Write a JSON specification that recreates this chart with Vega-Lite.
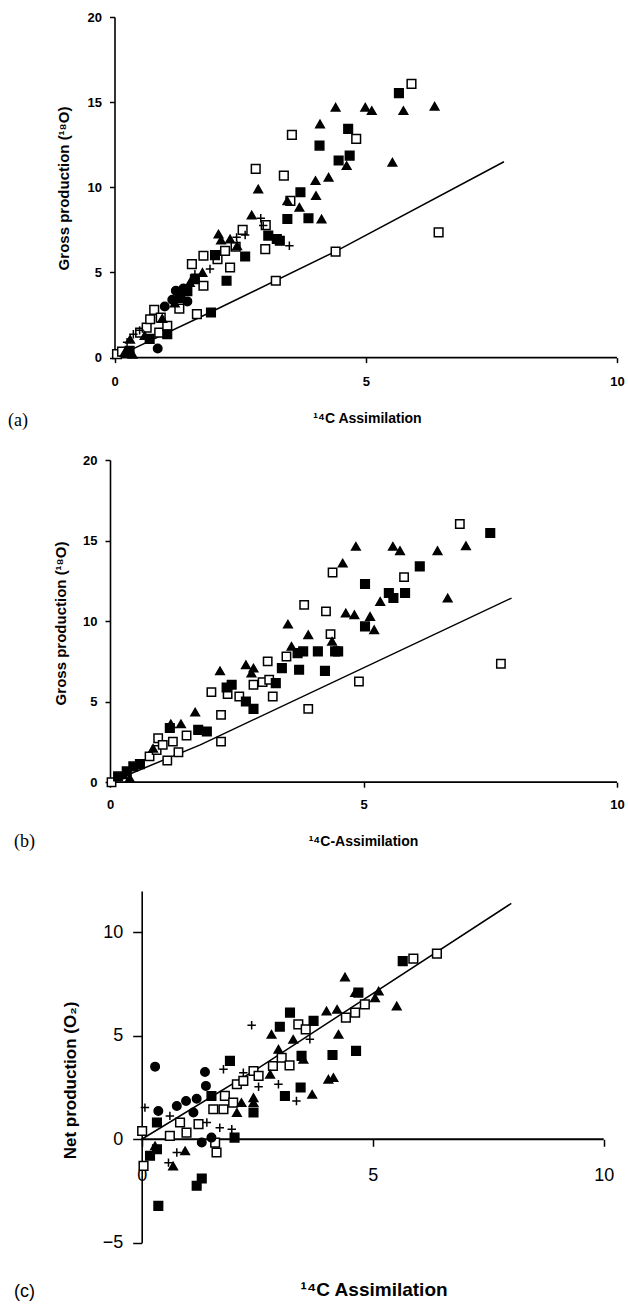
{
  "$schema": "https://vega.github.io/schema/vega-lite/v6.json",
  "padding": {"left": 8, "top": 11, "right": 0, "bottom": 0},
  "background": "white",
  "config": {
    "view": {"stroke": null},
    "axis": {"grid": false, "domainColor": "black", "tickColor": "black", "labelColor": "black", "titleColor": "black", "labelFont": "Liberation Sans", "titleFont": "Liberation Sans", "labelFlush": false, "labelOverlap": false}
  },
  "datasets": {
    "a": [
      {"x":0.05,"y":0.2,"s":"osq"},{"x":0.15,"y":0.35,"s":"osq"},{"x":0.51,"y":1.47,"s":"osq"},{"x":0.64,"y":1.76,"s":"osq"},{"x":0.71,"y":2.25,"s":"osq"},{"x":0.79,"y":2.8,"s":"osq"},{"x":0.89,"y":1.47,"s":"osq"},{"x":0.92,"y":2.35,"s":"osq"},{"x":1.05,"y":1.86,"s":"osq"},{"x":1.29,"y":2.88,"s":"osq"},{"x":1.64,"y":2.55,"s":"osq"},{"x":1.54,"y":5.49,"s":"osq"},{"x":1.77,"y":5.98,"s":"osq"},{"x":1.77,"y":4.22,"s":"osq"},{"x":2.05,"y":5.78,"s":"osq"},{"x":2.2,"y":6.27,"s":"osq"},{"x":2.3,"y":5.29,"s":"osq"},{"x":2.41,"y":6.51,"s":"osq"},{"x":2.55,"y":7.5,"s":"osq"},{"x":2.81,"y":11.08,"s":"osq"},{"x":3.0,"y":6.37,"s":"osq"},{"x":3.01,"y":7.78,"s":"osq"},{"x":3.21,"y":4.51,"s":"osq"},{"x":3.37,"y":10.69,"s":"osq"},{"x":3.5,"y":9.2,"s":"osq"},{"x":3.53,"y":13.08,"s":"osq"},{"x":4.4,"y":6.22,"s":"osq"},{"x":4.81,"y":12.84,"s":"osq"},{"x":5.91,"y":16.07,"s":"osq"},{"x":6.45,"y":7.35,"s":"osq"},
      {"x":0.3,"y":0.4,"s":"fsq"},{"x":0.7,"y":1.1,"s":"fsq"},{"x":1.05,"y":1.37,"s":"fsq"},{"x":1.3,"y":3.5,"s":"fsq"},{"x":1.45,"y":3.9,"s":"fsq"},{"x":1.6,"y":4.6,"s":"fsq"},{"x":1.92,"y":2.65,"s":"fsq"},{"x":2.0,"y":6.02,"s":"fsq"},{"x":2.23,"y":4.51,"s":"fsq"},{"x":2.6,"y":5.94,"s":"fsq"},{"x":3.06,"y":7.16,"s":"fsq"},{"x":3.23,"y":6.96,"s":"fsq"},{"x":3.29,"y":6.86,"s":"fsq"},{"x":3.44,"y":8.14,"s":"fsq"},{"x":3.7,"y":9.71,"s":"fsq"},{"x":3.86,"y":8.18,"s":"fsq"},{"x":4.08,"y":12.45,"s":"fsq"},{"x":4.46,"y":11.57,"s":"fsq"},{"x":4.68,"y":11.86,"s":"fsq"},{"x":4.65,"y":13.43,"s":"fsq"},{"x":5.66,"y":15.53,"s":"fsq"},
      {"x":0.2,"y":0.3,"s":"tri"},{"x":0.36,"y":0.2,"s":"tri"},{"x":0.31,"y":1.08,"s":"tri"},{"x":0.6,"y":1.3,"s":"tri"},{"x":0.95,"y":2.3,"s":"tri"},{"x":1.2,"y":3.2,"s":"tri"},{"x":1.35,"y":3.6,"s":"tri"},{"x":1.5,"y":4.4,"s":"tri"},{"x":1.75,"y":5.0,"s":"tri"},{"x":2.07,"y":7.25,"s":"tri"},{"x":2.12,"y":6.9,"s":"tri"},{"x":2.3,"y":6.96,"s":"tri"},{"x":2.44,"y":6.57,"s":"tri"},{"x":2.73,"y":8.37,"s":"tri"},{"x":2.86,"y":9.9,"s":"tri"},{"x":3.44,"y":9.2,"s":"tri"},{"x":3.68,"y":8.82,"s":"tri"},{"x":4.0,"y":10.39,"s":"tri"},{"x":4.01,"y":9.51,"s":"tri"},{"x":4.09,"y":13.72,"s":"tri"},{"x":4.12,"y":8.14,"s":"tri"},{"x":4.26,"y":10.59,"s":"tri"},{"x":4.4,"y":14.7,"s":"tri"},{"x":4.62,"y":11.27,"s":"tri"},{"x":4.99,"y":14.7,"s":"tri"},{"x":5.12,"y":14.5,"s":"tri"},{"x":5.53,"y":11.47,"s":"tri"},{"x":5.75,"y":14.5,"s":"tri"},{"x":6.37,"y":14.76,"s":"tri"},
      {"x":0.86,"y":0.53,"s":"circ"},{"x":1.0,"y":3.0,"s":"circ"},{"x":1.15,"y":3.4,"s":"circ"},{"x":1.22,"y":3.92,"s":"circ"},{"x":1.3,"y":3.6,"s":"circ"},{"x":1.37,"y":4.06,"s":"circ"},{"x":1.45,"y":3.3,"s":"circ"},
      {"x":0.25,"y":0.9,"s":"cross"},{"x":0.375,"y":1.37,"s":"cross"},{"x":0.5,"y":1.6,"s":"cross"},{"x":1.6,"y":4.9,"s":"cross"},{"x":1.9,"y":5.2,"s":"cross"},{"x":2.43,"y":7.06,"s":"cross"},{"x":2.6,"y":7.2,"s":"cross"},{"x":2.91,"y":8.18,"s":"cross"},{"x":2.96,"y":7.75,"s":"cross"},{"x":3.48,"y":6.57,"s":"cross"}
    ],
    "aline": [{"x":0,"y":0},{"x":1.9,"y":2.65},{"x":4.4,"y":6.24},{"x":7.75,"y":11.5}],
    "b": [
      {"x":0.03,"y":0.0,"s":"dia"},{"x":0.78,"y":1.6,"s":"dia"},{"x":0.92,"y":2.0,"s":"dia"},{"x":0.95,"y":2.73,"s":"dia"},{"x":1.04,"y":2.32,"s":"dia"},{"x":1.13,"y":1.35,"s":"dia"},{"x":1.24,"y":2.52,"s":"dia"},{"x":1.35,"y":1.86,"s":"dia"},{"x":1.51,"y":2.9,"s":"dia"},{"x":2.0,"y":5.59,"s":"dia"},{"x":2.19,"y":4.18,"s":"dia"},{"x":2.19,"y":2.52,"s":"dia"},{"x":2.32,"y":5.47,"s":"dia"},{"x":2.55,"y":5.32,"s":"dia"},{"x":2.83,"y":6.05,"s":"dia"},{"x":3.01,"y":6.21,"s":"dia"},{"x":3.11,"y":7.5,"s":"dia"},{"x":3.14,"y":6.36,"s":"dia"},{"x":3.21,"y":5.32,"s":"dia"},{"x":3.48,"y":7.8,"s":"dia"},{"x":3.83,"y":11.01,"s":"dia"},{"x":3.91,"y":4.55,"s":"dia"},{"x":4.26,"y":10.6,"s":"dia"},{"x":4.35,"y":9.19,"s":"dia"},{"x":4.39,"y":13.02,"s":"dia"},{"x":4.91,"y":6.25,"s":"dia"},{"x":5.8,"y":12.73,"s":"dia"},{"x":6.9,"y":16.03,"s":"dia"},{"x":7.71,"y":7.35,"s":"dia"},
      {"x":0.26,"y":0.46,"s":"tri"},{"x":0.39,"y":0.25,"s":"tri"},{"x":0.85,"y":2.1,"s":"tri"},{"x":1.2,"y":3.62,"s":"tri"},{"x":1.4,"y":3.62,"s":"tri"},{"x":1.68,"y":4.35,"s":"tri"},{"x":2.17,"y":6.91,"s":"tri"},{"x":2.68,"y":7.29,"s":"tri"},{"x":2.79,"y":6.77,"s":"tri"},{"x":2.83,"y":7.08,"s":"tri"},{"x":3.51,"y":9.81,"s":"tri"},{"x":3.58,"y":8.43,"s":"tri"},{"x":3.91,"y":9.15,"s":"tri"},{"x":4.38,"y":8.74,"s":"tri"},{"x":4.59,"y":13.6,"s":"tri"},{"x":4.65,"y":10.5,"s":"tri"},{"x":4.82,"y":10.39,"s":"tri"},{"x":4.85,"y":14.64,"s":"tri"},{"x":5.13,"y":10.29,"s":"tri"},{"x":5.21,"y":9.46,"s":"tri"},{"x":5.33,"y":11.22,"s":"tri"},{"x":5.58,"y":14.64,"s":"tri"},{"x":5.72,"y":14.37,"s":"tri"},{"x":6.46,"y":14.37,"s":"tri"},{"x":6.66,"y":11.43,"s":"tri"},{"x":7.02,"y":14.68,"s":"tri"},
      {"x":0.16,"y":0.36,"s":"fsq"},{"x":0.33,"y":0.67,"s":"fsq"},{"x":0.46,"y":0.98,"s":"fsq"},{"x":0.59,"y":1.12,"s":"fsq"},{"x":1.18,"y":3.36,"s":"fsq"},{"x":1.74,"y":3.25,"s":"fsq"},{"x":1.91,"y":3.15,"s":"fsq"},{"x":2.3,"y":5.88,"s":"fsq"},{"x":2.4,"y":6.05,"s":"fsq"},{"x":2.68,"y":5.01,"s":"fsq"},{"x":2.83,"y":4.55,"s":"fsq"},{"x":3.27,"y":6.15,"s":"fsq"},{"x":3.39,"y":7.08,"s":"fsq"},{"x":3.7,"y":8.01,"s":"fsq"},{"x":3.73,"y":6.98,"s":"fsq"},{"x":3.81,"y":8.12,"s":"fsq"},{"x":4.1,"y":8.12,"s":"fsq"},{"x":4.24,"y":6.91,"s":"fsq"},{"x":4.44,"y":8.12,"s":"fsq"},{"x":4.5,"y":8.12,"s":"fsq"},{"x":5.03,"y":12.3,"s":"fsq"},{"x":5.03,"y":9.67,"s":"fsq"},{"x":5.5,"y":11.74,"s":"fsq"},{"x":5.59,"y":11.43,"s":"fsq"},{"x":5.82,"y":11.74,"s":"fsq"},{"x":6.11,"y":13.4,"s":"fsq"},{"x":7.5,"y":15.47,"s":"fsq"}
    ],
    "bline": [{"x":0,"y":0},{"x":1.78,"y":2.32},{"x":7.92,"y":11.43}],
    "c": [
      {"x":0.01,"y":0.4,"s":"osq"},{"x":0.04,"y":-1.29,"s":"osq"},{"x":0.61,"y":0.16,"s":"osq"},{"x":0.83,"y":0.81,"s":"osq"},{"x":0.97,"y":0.32,"s":"osq"},{"x":1.23,"y":0.73,"s":"osq"},{"x":1.55,"y":1.45,"s":"osq"},{"x":1.59,"y":-0.16,"s":"osq"},{"x":1.62,"y":-0.64,"s":"osq"},{"x":1.77,"y":1.45,"s":"osq"},{"x":1.8,"y":2.1,"s":"osq"},{"x":1.98,"y":1.77,"s":"osq"},{"x":2.06,"y":2.66,"s":"osq"},{"x":2.2,"y":2.82,"s":"osq"},{"x":2.42,"y":3.3,"s":"osq"},{"x":2.53,"y":3.06,"s":"osq"},{"x":2.84,"y":3.54,"s":"osq"},{"x":3.03,"y":3.94,"s":"osq"},{"x":3.2,"y":3.57,"s":"osq"},{"x":3.39,"y":5.55,"s":"osq"},{"x":3.55,"y":5.31,"s":"osq"},{"x":4.42,"y":5.88,"s":"osq"},{"x":4.62,"y":6.12,"s":"osq"},{"x":4.83,"y":6.52,"s":"osq"},{"x":5.88,"y":8.73,"s":"osq"},{"x":6.39,"y":8.97,"s":"osq"},
      {"x":0.29,"y":-0.32,"s":"tri"},{"x":0.68,"y":-1.29,"s":"tri"},{"x":0.94,"y":-0.56,"s":"tri"},{"x":2.06,"y":1.29,"s":"tri"},{"x":2.16,"y":1.77,"s":"tri"},{"x":2.42,"y":1.77,"s":"tri"},{"x":2.42,"y":2.01,"s":"tri"},{"x":2.78,"y":3.14,"s":"tri"},{"x":2.81,"y":5.07,"s":"tri"},{"x":2.96,"y":4.35,"s":"tri"},{"x":3.28,"y":4.83,"s":"tri"},{"x":3.5,"y":3.86,"s":"tri"},{"x":3.69,"y":2.17,"s":"tri"},{"x":4.0,"y":6.2,"s":"tri"},{"x":4.04,"y":2.9,"s":"tri"},{"x":4.15,"y":2.98,"s":"tri"},{"x":4.23,"y":6.28,"s":"tri"},{"x":4.26,"y":5.07,"s":"tri"},{"x":4.4,"y":7.84,"s":"tri"},{"x":4.62,"y":7.09,"s":"tri"},{"x":5.05,"y":6.84,"s":"tri"},{"x":5.13,"y":7.16,"s":"tri"},{"x":5.52,"y":6.44,"s":"tri"},
      {"x":0.18,"y":-0.8,"s":"fsq"},{"x":0.33,"y":0.81,"s":"fsq"},{"x":0.33,"y":-0.48,"s":"fsq"},{"x":0.36,"y":-3.22,"s":"fsq"},{"x":1.19,"y":-2.25,"s":"fsq"},{"x":1.3,"y":-1.9,"s":"fsq"},{"x":1.51,"y":2.09,"s":"fsq"},{"x":1.91,"y":3.79,"s":"fsq"},{"x":2.01,"y":0.08,"s":"fsq"},{"x":2.42,"y":1.29,"s":"fsq"},{"x":2.99,"y":5.44,"s":"fsq"},{"x":3.1,"y":2.09,"s":"fsq"},{"x":3.21,"y":6.12,"s":"fsq"},{"x":3.44,"y":2.5,"s":"fsq"},{"x":3.46,"y":4.03,"s":"fsq"},{"x":3.72,"y":5.72,"s":"fsq"},{"x":4.13,"y":4.07,"s":"fsq"},{"x":4.64,"y":4.27,"s":"fsq"},{"x":4.69,"y":7.09,"s":"fsq"},{"x":5.65,"y":8.61,"s":"fsq"},
      {"x":0.29,"y":3.51,"s":"circ"},{"x":0.36,"y":1.37,"s":"circ"},{"x":0.76,"y":1.61,"s":"circ"},{"x":0.96,"y":1.85,"s":"circ"},{"x":1.12,"y":1.29,"s":"circ"},{"x":1.19,"y":1.96,"s":"circ"},{"x":1.3,"y":-0.16,"s":"circ"},{"x":1.37,"y":3.25,"s":"circ"},{"x":1.39,"y":2.58,"s":"circ"},{"x":1.51,"y":0.08,"s":"circ"},
      {"x":0.07,"y":1.53,"s":"cross"},{"x":0.58,"y":-1.13,"s":"cross"},{"x":0.61,"y":1.13,"s":"cross"},{"x":0.76,"y":-0.64,"s":"cross"},{"x":1.41,"y":0.81,"s":"cross"},{"x":1.69,"y":0.56,"s":"cross"},{"x":1.77,"y":3.38,"s":"cross"},{"x":1.95,"y":0.48,"s":"cross"},{"x":2.2,"y":3.22,"s":"cross"},{"x":2.38,"y":5.51,"s":"cross"},{"x":2.53,"y":2.54,"s":"cross"},{"x":2.96,"y":2.66,"s":"cross"},{"x":3.35,"y":1.85,"s":"cross"},{"x":3.64,"y":4.83,"s":"cross"}
    ],
    "cline": [{"x":0,"y":0},{"x":2.5,"y":3.4},{"x":8.0,"y":11.4}],
    "xaxis": [{"x":0,"x2":10,"y":0}]
  },
  "vconcat": [
    {
      "spacing": 24,
      "vconcat": [
        {
          "width": 507, "height": 340.6,
          "title": {"text": "(a)", "orient": "bottom", "anchor": "start", "frame": "group", "font": "Liberation Serif", "fontSize": 18, "fontWeight": "normal", "color": "black", "dx": -102, "dy": -14, "offset": 0},
          "layer": [
            {
              "data": {"name": "xaxis"},
              "mark": {"type": "rule", "color": "black", "strokeWidth": 1.8},
              "encoding": {
                "x": {"field": "x", "type": "quantitative", "scale": {"domain": [-0.0896, 10], "nice": false, "zero": false},
                  "axis": {"values": [0, 5, 10], "domain": false, "title": "¹⁴C Assimilation", "titleFontSize": 14, "titleFontWeight": "bold", "titleX": 257, "titleY": 61, "titleBaseline": "middle", "titleAlign": "center", "labelFontSize": 13, "labelFontWeight": "bold", "tickSize": 5, "tickWidth": 1.5, "labelPadding": 13}},
                "x2": {"field": "x2"},
                "y": {"field": "y", "type": "quantitative", "scale": {"domain": [0, 20], "nice": false},
                  "axis": {"values": [0, 5, 10, 15, 20], "offset": -4.5, "domainWidth": 1.6, "title": "Gross production (¹⁸O)", "titleFontSize": 15, "titleFontWeight": "bold", "titleX": -51.5, "titleY": 171, "titleAngle": 270, "titleBaseline": "middle", "titleAlign": "center", "labelFontSize": 13, "labelFontWeight": "bold", "tickSize": 5, "tickWidth": 1.5, "labelPadding": 8}}
              }
            },
            {
              "data": {"name": "aline"},
              "mark": {"type": "line", "color": "black", "strokeWidth": 1.5},
              "encoding": {"x": {"field": "x", "type": "quantitative"}, "y": {"field": "y", "type": "quantitative"}}
            },
            {
              "data": {"name": "a"},
              "mark": {"type": "point", "filled": true, "stroke": "black", "strokeWidth": 1.5, "opacity": 1},
              "encoding": {
                "x": {"field": "x", "type": "quantitative"},
                "y": {"field": "y", "type": "quantitative"},
                "shape": {"field": "s", "type": "nominal", "scale": {"domain": ["osq", "fsq", "tri", "circ", "cross"], "range": ["square", "square", "triangle-up", "circle", "M-1,0L1,0M0,-1L0,1"]}, "legend": null},
                "fill": {"field": "s", "type": "nominal", "scale": {"domain": ["osq", "fsq", "tri", "circ", "cross"], "range": ["white", "black", "black", "black", "transparent"]}, "legend": null},
                "size": {"field": "s", "type": "ordinal", "scale": {"domain": ["osq", "fsq", "tri", "circ", "cross"], "range": [75, 70, 65, 50, 90]}, "legend": null}
              }
            }
          ]
        },
        {
          "width": 507, "height": 322.2,
          "title": {"text": "(b)", "orient": "bottom", "anchor": "start", "frame": "group", "font": "Liberation Serif", "fontSize": 18, "fontWeight": "normal", "color": "black", "dx": -96, "dy": -15, "offset": 0},
          "layer": [
            {
              "data": {"name": "xaxis"},
              "mark": {"type": "rule", "color": "black", "strokeWidth": 1.8},
              "encoding": {
                "x": {"field": "x", "type": "quantitative", "scale": {"domain": [0, 10], "nice": false, "zero": false},
                  "axis": {"values": [0, 5, 10], "domain": false, "title": "¹⁴C-Assimilation", "titleFontSize": 14, "titleFontWeight": "bold", "titleX": 253, "titleY": 59, "titleBaseline": "middle", "titleAlign": "center", "labelFontSize": 13, "labelFontWeight": "bold", "tickSize": 5, "tickWidth": 1.5, "labelPadding": 11}},
                "x2": {"field": "x2"},
                "y": {"field": "y", "type": "quantitative", "scale": {"domain": [0, 20], "nice": false},
                  "axis": {"values": [0, 5, 10, 15, 20], "domainWidth": 1.6, "title": "Gross production (¹⁸O)", "titleFontSize": 15, "titleFontWeight": "bold", "titleX": -50, "titleY": 163, "titleAngle": 270, "titleBaseline": "middle", "titleAlign": "center", "labelFontSize": 13, "labelFontWeight": "bold", "tickSize": 5, "tickWidth": 1.5, "labelPadding": 8}}
              }
            },
            {
              "data": {"name": "bline"},
              "mark": {"type": "line", "color": "black", "strokeWidth": 1.5},
              "encoding": {"x": {"field": "x", "type": "quantitative"}, "y": {"field": "y", "type": "quantitative"}}
            },
            {
              "data": {"name": "b"},
              "mark": {"type": "point", "filled": true, "stroke": "black", "strokeWidth": 1.5, "opacity": 1},
              "encoding": {
                "x": {"field": "x", "type": "quantitative"},
                "y": {"field": "y", "type": "quantitative"},
                "shape": {"field": "s", "type": "nominal", "scale": {"domain": ["dia", "fsq", "tri"], "range": ["M0,-1.2L0.85,0L0,1.2L-0.85,0Z", "square", "triangle-up"]}, "legend": null},
                "fill": {"field": "s", "type": "nominal", "scale": {"domain": ["dia", "fsq", "tri"], "range": ["white", "black", "black"]}, "legend": null},
                "size": {"field": "s", "type": "ordinal", "scale": {"domain": ["dia", "fsq", "tri"], "range": [45, 70, 65]}, "legend": null}
              }
            }
          ]
        }
      ]
    },
    {
      "width": 493.7, "height": 351.7,
      "title": {"text": "(c)", "orient": "bottom", "anchor": "start", "frame": "group", "font": "Liberation Sans", "fontSize": 18, "fontWeight": "normal", "color": "black", "dx": -96, "dy": -17, "offset": 0},
      "layer": [
        {
          "data": {"name": "xaxis"},
          "mark": {"type": "rule", "color": "black", "strokeWidth": 1.8},
          "encoding": {
            "x": {"field": "x", "type": "quantitative", "scale": {"domain": [-0.686, 10], "nice": false, "zero": false},
              "axis": {"values": [0, 5, 10], "domain": false, "offset": -103.45, "title": "¹⁴C Assimilation", "titleFontSize": 19, "titleFontWeight": "bold", "titleX": 263.6, "titleY": 150.3, "titleBaseline": "middle", "titleAlign": "center", "labelFontSize": 18, "labelFontWeight": "normal", "tickSize": 7, "tickWidth": 1.5, "labelPadding": 20}},
            "x2": {"field": "x2"},
            "y": {"field": "y", "type": "quantitative", "scale": {"domain": [-5, 12], "nice": false, "zero": false},
              "axis": {"values": [-5, 0, 5, 10], "offset": -31.7, "domainWidth": 1.6, "title": "Net production (O₂)", "titleFontSize": 17, "titleFontWeight": "bold", "titleX": -71.7, "titleY": 189, "titleAngle": 270, "titleBaseline": "middle", "titleAlign": "center", "labelFontSize": 18, "labelFontWeight": "normal", "tickSize": 9, "tickWidth": 1.5, "labelPadding": 10}}
          }
        },
        {
          "data": {"name": "cline"},
          "mark": {"type": "line", "color": "black", "strokeWidth": 1.5},
          "encoding": {"x": {"field": "x", "type": "quantitative"}, "y": {"field": "y", "type": "quantitative"}}
        },
        {
          "data": {"name": "c"},
          "mark": {"type": "point", "filled": true, "stroke": "black", "strokeWidth": 1.5, "opacity": 1},
          "encoding": {
            "x": {"field": "x", "type": "quantitative"},
            "y": {"field": "y", "type": "quantitative"},
            "shape": {"field": "s", "type": "nominal", "scale": {"domain": ["osq", "fsq", "tri", "circ", "cross"], "range": ["square", "square", "triangle-up", "circle", "M-1,0L1,0M0,-1L0,1"]}, "legend": null},
            "fill": {"field": "s", "type": "nominal", "scale": {"domain": ["osq", "fsq", "tri", "circ", "cross"], "range": ["white", "black", "black", "black", "transparent"]}, "legend": null},
            "size": {"field": "s", "type": "ordinal", "scale": {"domain": ["osq", "fsq", "tri", "circ", "cross"], "range": [85, 75, 75, 60, 110]}, "legend": null}
          }
        }
      ]
    }
  ],
  "spacing": 39
}
